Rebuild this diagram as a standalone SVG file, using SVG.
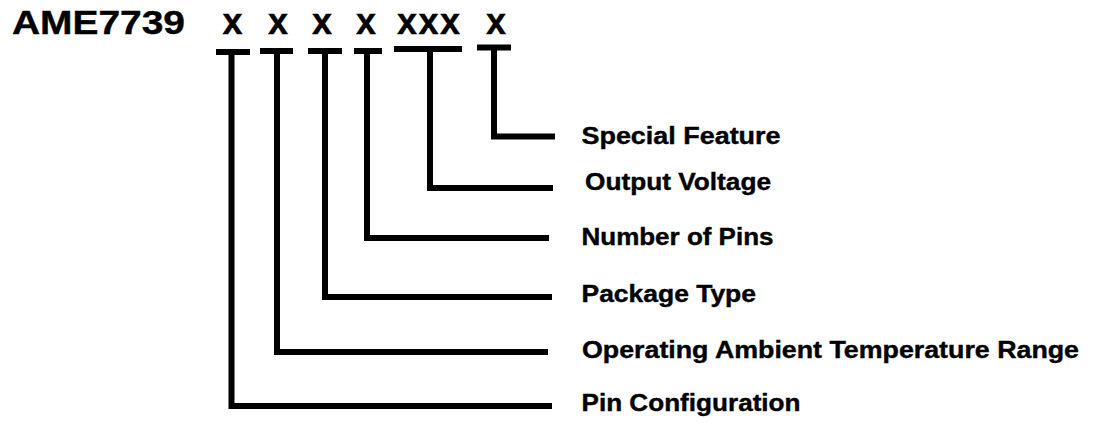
<svg xmlns="http://www.w3.org/2000/svg" width="1093" height="423" viewBox="0 0 1093 423">
<style>
.t{font-family:"Liberation Sans",Arial,sans-serif;font-weight:bold;fill:#000;stroke:#000;stroke-width:0.4}
.title{font-size:34px}
.code{font-size:36px;text-anchor:middle}
.lbl{font-size:24px}
.c{fill:none;stroke:#000;stroke-width:6;stroke-linejoin:miter;stroke-linecap:butt}
</style>
<rect width="1093" height="423" fill="#fff"/>
<g id="title"><text class="t title" x="12" y="34" textLength="173" lengthAdjust="spacingAndGlyphs">AME7739</text></g>
<g id="code-pin-config"><text class="t code" x="232.5" y="34">x</text></g>
<g id="code-temp"><text class="t code" x="278" y="34">x</text></g>
<g id="code-package"><text class="t code" x="322" y="34">x</text></g>
<g id="code-pins"><text class="t code" x="366" y="34">x</text></g>
<g id="code-voltage"><text class="t code" x="428.5" y="34" textLength="63" lengthAdjust="spacing">xxx</text></g>
<g id="code-special"><text class="t code" x="496" y="34">x</text></g>
<g id="connectors">
<path class="c" d="M216 52H250M231.5 52V406H552"/>
<path class="c" d="M260 51H293M277 51V352H548"/>
<path class="c" d="M308 51H342M325 51V297H552"/>
<path class="c" d="M354 51H382M367 51V238H549"/>
<path class="c" d="M394 49H462M430 49V188H553"/>
<path class="c" d="M477 47.5H511M494 47.5V136.5H555"/>
</g>
<g id="label-special"><text class="t lbl" x="581.5" y="144" textLength="199" lengthAdjust="spacingAndGlyphs">Special Feature</text></g>
<g id="label-voltage"><text class="t lbl" x="585" y="190" textLength="186" lengthAdjust="spacingAndGlyphs">Output Voltage</text></g>
<g id="label-pins"><text class="t lbl" x="581.5" y="245" textLength="192" lengthAdjust="spacingAndGlyphs">Number of Pins</text></g>
<g id="label-package"><text class="t lbl" x="581.5" y="302" textLength="174.5" lengthAdjust="spacingAndGlyphs">Package Type</text></g>
<g id="label-temp"><text class="t lbl" x="582" y="357.5" textLength="497" lengthAdjust="spacingAndGlyphs">Operating Ambient Temperature Range</text></g>
<g id="label-pin-config"><text class="t lbl" x="581.5" y="411" textLength="219" lengthAdjust="spacingAndGlyphs">Pin Configuration</text></g>
</svg>
